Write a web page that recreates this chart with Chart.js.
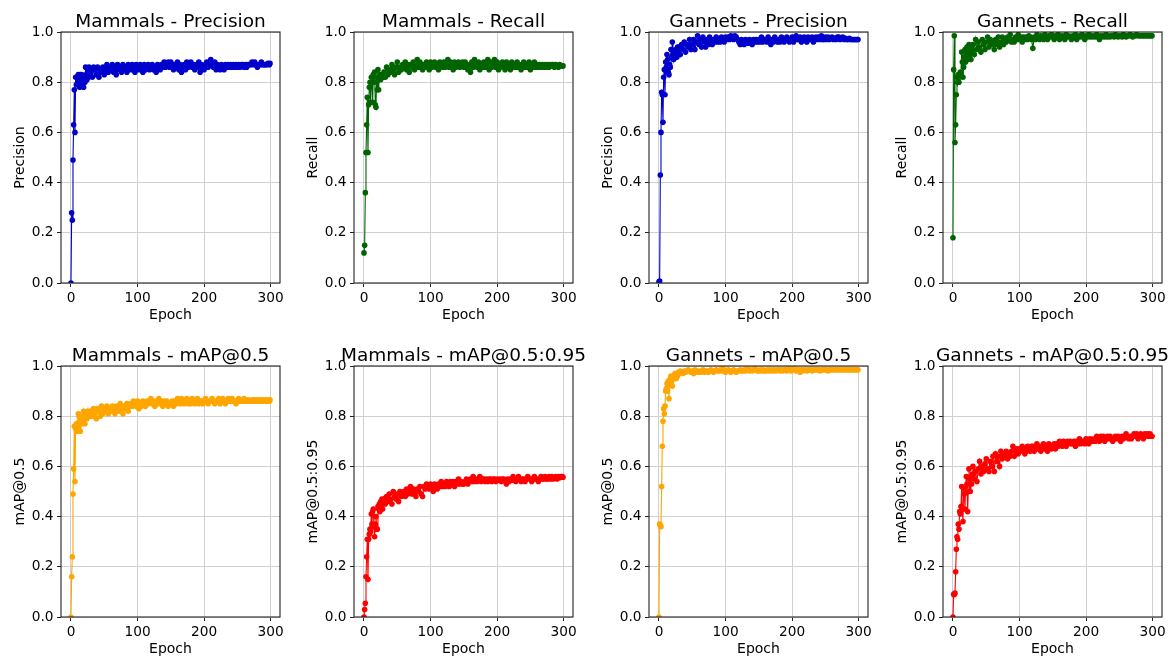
<!DOCTYPE html>
<html><head><meta charset="utf-8">
<script src="https://cdn.jsdelivr.net/npm/chart.js@4.4.1/dist/chart.umd.min.js"></script>
<style>
html,body{margin:0;padding:0;background:#fff;}
#fig{position:relative;width:1174px;height:659px;overflow:hidden;background:#fff;}
#fig canvas{position:absolute;}
</style></head><body><div id="fig"></div>
<script>
const epochs = [
 0,1,2,3,4,5,6,7,8,9,10,11,12,13,14,15,16,17,18,19,20,21,22,23,24,25,26,27,28,29,
 30,32,34,36,38,40,42,44,46,48,50,52,54,56,58,
 60,62,64,66,68,70,72,74,76,78,80,82,84,86,88,
 90,92,94,96,98,100,102,104,106,108,110,112,114,116,118,
 120,122,124,126,128,130,132,134,136,138,140,142,144,146,148,
 150,152,154,156,158,160,162,164,166,168,170,172,174,176,178,
 180,182,184,186,188,190,192,194,196,198,200,202,204,206,208,
 210,212,214,216,218,220,222,224,226,228,230,232,234,236,238,
 240,242,244,246,248,250,252,254,256,258,260,262,264,266,268,
 270,272,274,276,278,280,282,284,286,288,290,292,294,296,298,
 299
];
const mammalsPrecision = [
 0.00,0.28,0.25,0.49,0.63,0.77,0.60,0.82,0.79,0.82,0.80,0.83,0.82,0.78,0.83,0.81,0.83,0.79,0.80,0.78,0.82,0.80,0.86,0.83,0.81,0.84,0.82,0.86,0.83,0.85,
 0.84,0.82,0.86,0.85,0.83,0.86,0.82,0.85,0.84,0.86,0.83,0.85,0.87,0.84,0.86,
 0.85,0.87,0.84,0.86,0.83,0.87,0.85,0.86,0.84,0.87,0.85,0.86,0.84,0.87,0.86,
 0.85,0.87,0.86,0.84,0.87,0.86,0.85,0.87,0.86,0.84,0.87,0.85,0.86,0.87,0.85,
 0.86,0.87,0.85,0.86,0.84,0.87,0.86,0.85,0.87,0.86,0.88,0.86,0.87,0.88,0.86,
 0.88,0.87,0.85,0.87,0.86,0.88,0.85,0.87,0.84,0.86,0.87,0.85,0.88,0.86,0.87,
 0.88,0.86,0.87,0.85,0.87,0.86,0.88,0.84,0.87,0.86,0.85,0.87,0.88,0.86,0.87,
 0.89,0.87,0.86,0.88,0.85,0.87,0.86,0.85,0.87,0.86,0.85,0.87,0.86,0.87,0.86,
 0.87,0.86,0.87,0.86,0.87,0.86,0.87,0.86,0.87,0.87,0.86,0.87,0.86,0.87,0.87,
 0.87,0.88,0.87,0.88,0.87,0.86,0.87,0.87,0.88,0.87,0.87,0.87,0.87,0.875,0.87,
 0.875
];
const mammalsRecall = [
 0.12,0.15,0.36,0.52,0.63,0.74,0.52,0.71,0.78,0.80,0.72,0.82,0.80,0.72,0.83,0.80,0.84,0.71,0.70,0.82,0.77,0.85,0.77,0.82,0.83,0.81,0.82,0.82,0.83,0.82,
 0.84,0.82,0.86,0.83,0.85,0.84,0.87,0.85,0.83,0.86,0.88,0.84,0.86,0.85,0.87,
 0.86,0.88,0.85,0.87,0.84,0.87,0.86,0.88,0.85,0.87,0.89,0.86,0.88,0.87,0.85,
 0.87,0.86,0.88,0.87,0.85,0.88,0.86,0.87,0.88,0.86,0.87,0.85,0.88,0.87,0.86,
 0.88,0.86,0.87,0.89,0.86,0.88,0.87,0.85,0.88,0.86,0.87,0.88,0.86,0.87,0.88,
 0.86,0.88,0.87,0.85,0.87,0.84,0.88,0.86,0.89,0.87,0.86,0.88,0.85,0.87,0.86,
 0.88,0.86,0.87,0.89,0.85,0.88,0.86,0.87,0.89,0.86,0.88,0.85,0.87,0.86,0.88,
 0.87,0.85,0.88,0.86,0.87,0.85,0.88,0.86,0.87,0.86,0.88,0.86,0.87,0.85,0.87,
 0.88,0.86,0.87,0.86,0.88,0.85,0.87,0.86,0.88,0.86,0.87,0.86,0.87,0.86,0.87,
 0.86,0.87,0.86,0.87,0.86,0.87,0.865,0.87,0.86,0.87,0.865,0.86,0.87,0.865,0.865,
 0.865
];
const gannetsPrecision = [
 0.005,0.008,0.43,0.60,0.76,0.75,0.64,0.82,0.85,0.75,0.88,0.86,0.91,0.89,0.84,0.83,0.87,0.86,0.93,0.90,0.96,0.91,0.89,0.92,0.90,0.93,0.92,0.90,0.94,0.92,
 0.94,0.91,0.95,0.93,0.96,0.92,0.95,0.94,0.97,0.93,0.95,0.97,0.93,0.96,0.985,
 0.95,0.97,0.94,0.98,0.96,0.94,0.97,0.95,0.98,0.96,0.95,0.97,0.96,0.98,0.96,
 0.97,0.96,0.98,0.97,0.96,0.98,0.97,0.98,0.97,0.985,0.98,0.97,0.985,0.98,0.97,
 0.96,0.95,0.97,0.96,0.95,0.97,0.96,0.955,0.97,0.96,0.95,0.97,0.96,0.97,0.96,
 0.97,0.96,0.98,0.96,0.97,0.97,0.96,0.98,0.97,0.95,0.97,0.96,0.98,0.97,0.96,
 0.97,0.96,0.98,0.97,0.96,0.97,0.98,0.97,0.96,0.97,0.98,0.96,0.97,0.985,0.97,
 0.97,0.98,0.96,0.97,0.98,0.97,0.96,0.98,0.97,0.97,0.98,0.96,0.97,0.98,0.97,
 0.98,0.97,0.985,0.97,0.97,0.98,0.97,0.98,0.97,0.975,0.98,0.97,0.975,0.97,0.98,
 0.98,0.97,0.975,0.98,0.97,0.975,0.97,0.97,0.975,0.97,0.97,0.97,0.97,0.97,0.97,
 0.97
];
const gannetsRecall = [
 0.18,0.85,0.985,0.56,0.63,0.75,0.82,0.80,0.83,0.80,0.82,0.84,0.83,0.92,0.88,0.82,0.86,0.90,0.93,0.88,0.91,0.94,0.89,0.92,0.95,0.90,0.93,0.89,0.94,0.92,
 0.95,0.91,0.97,0.93,0.96,0.94,0.92,0.97,0.95,0.93,0.96,0.98,0.94,0.97,0.95,
 0.96,0.93,0.97,0.95,0.98,0.94,0.96,0.98,0.95,0.97,0.96,0.98,0.97,0.99,0.96,
 0.97,0.96,0.98,0.97,0.99,0.97,0.98,0.96,0.98,0.97,0.98,0.97,0.985,0.98,0.97,
 0.935,0.98,0.97,0.99,0.98,0.97,0.985,0.98,0.97,0.99,0.98,0.97,0.985,0.98,0.99,
 0.98,0.97,0.985,0.98,0.99,0.97,0.98,0.985,0.98,0.97,0.99,0.98,0.985,0.98,0.97,
 0.985,0.98,0.99,0.97,0.98,0.985,0.98,0.99,0.98,0.97,0.985,0.98,0.99,0.98,0.985,
 0.98,0.985,0.98,0.99,0.98,0.97,0.985,0.98,0.985,0.98,0.99,0.98,0.985,0.98,0.985,
 0.985,0.98,0.99,0.985,0.98,0.985,0.985,0.98,0.99,0.985,0.98,0.985,0.985,0.99,0.985,
 0.98,0.985,0.985,0.99,0.985,0.985,0.985,0.985,0.985,0.985,0.985,0.985,0.985,0.985,0.985,
 0.985
];
const mammalsMap50 = [
 0.00,0.16,0.24,0.49,0.59,0.76,0.54,0.75,0.77,0.74,0.76,0.81,0.80,0.78,0.74,0.80,0.77,0.79,0.80,0.82,0.79,0.77,0.80,0.81,0.79,0.82,0.80,0.81,0.82,0.80,
 0.82,0.80,0.83,0.81,0.79,0.83,0.82,0.80,0.84,0.81,0.83,0.82,0.84,0.81,0.83,
 0.82,0.84,0.83,0.81,0.84,0.83,0.82,0.85,0.83,0.81,0.84,0.83,0.85,0.82,0.84,
 0.85,0.84,0.86,0.85,0.84,0.86,0.83,0.85,0.84,0.86,0.85,0.84,0.86,0.85,0.86,
 0.87,0.85,0.86,0.84,0.86,0.85,0.87,0.85,0.86,0.84,0.86,0.85,0.86,0.84,0.85,
 0.85,0.86,0.84,0.86,0.85,0.87,0.86,0.85,0.87,0.86,0.85,0.86,0.87,0.85,0.86,
 0.85,0.87,0.86,0.85,0.86,0.87,0.85,0.86,0.86,0.85,0.86,0.87,0.86,0.85,0.86,
 0.86,0.87,0.86,0.85,0.86,0.86,0.87,0.85,0.86,0.87,0.86,0.85,0.86,0.87,0.86,
 0.86,0.87,0.86,0.86,0.85,0.86,0.87,0.86,0.86,0.86,0.87,0.86,0.86,0.865,0.86,
 0.86,0.865,0.86,0.865,0.86,0.865,0.86,0.865,0.86,0.865,0.86,0.865,0.86,0.865,0.86,
 0.865
];
const mammalsMap5095 = [
 0.00,0.03,0.055,0.16,0.24,0.31,0.15,0.31,0.33,0.35,0.34,0.41,0.37,0.42,0.43,0.36,0.32,0.37,0.40,0.35,0.35,0.44,0.43,0.45,0.42,0.46,0.44,0.47,0.43,0.46,
 0.47,0.45,0.48,0.46,0.49,0.47,0.45,0.50,0.48,0.47,0.49,0.46,0.50,0.48,0.49,
 0.50,0.48,0.51,0.49,0.50,0.52,0.49,0.51,0.50,0.48,0.51,0.50,0.52,0.49,0.48,
 0.52,0.51,0.53,0.52,0.51,0.53,0.52,0.50,0.53,0.52,0.51,0.53,0.52,0.54,0.52,
 0.53,0.52,0.54,0.53,0.52,0.54,0.53,0.54,0.52,0.54,0.53,0.55,0.53,0.54,0.53,
 0.53,0.54,0.55,0.53,0.54,0.55,0.54,0.56,0.54,0.55,0.54,0.55,0.56,0.54,0.55,
 0.55,0.54,0.55,0.54,0.55,0.55,0.54,0.55,0.55,0.54,0.55,0.545,0.55,0.54,0.55,
 0.55,0.54,0.53,0.55,0.54,0.55,0.545,0.56,0.55,0.54,0.55,0.56,0.55,0.54,0.55,
 0.55,0.54,0.55,0.56,0.55,0.55,0.54,0.55,0.56,0.55,0.55,0.54,0.55,0.56,0.55,
 0.55,0.56,0.55,0.55,0.56,0.55,0.56,0.55,0.555,0.56,0.55,0.56,0.555,0.56,0.56,
 0.557
];
const gannetsMap50 = [
 0.00,0.37,0.365,0.36,0.52,0.68,0.78,0.83,0.81,0.84,0.90,0.91,0.93,0.90,0.94,0.87,0.93,0.95,0.96,0.94,0.92,0.95,0.96,0.95,0.97,0.96,0.95,0.97,0.96,0.975,
 0.97,0.98,0.975,0.97,0.98,0.975,0.98,0.985,0.98,0.975,0.98,0.97,0.985,0.98,0.975,
 0.98,0.975,0.98,0.985,0.975,0.98,0.98,0.975,0.98,0.985,0.98,0.975,0.98,0.985,0.98,
 0.98,0.985,0.98,0.99,0.98,0.975,0.98,0.985,0.98,0.975,0.98,0.985,0.98,0.975,0.98,
 0.98,0.985,0.98,0.98,0.985,0.98,0.99,0.985,0.98,0.985,0.98,0.985,0.99,0.985,0.98,
 0.98,0.985,0.98,0.985,0.98,0.98,0.985,0.98,0.985,0.98,0.985,0.98,0.985,0.98,0.985,
 0.985,0.98,0.985,0.98,0.985,0.985,0.98,0.99,0.985,0.98,0.985,0.99,0.985,0.98,0.985,
 0.985,0.975,0.985,0.98,0.985,0.985,0.98,0.985,0.985,0.985,0.98,0.985,0.985,0.985,0.985,
 0.985,0.98,0.985,0.985,0.985,0.985,0.985,0.98,0.985,0.985,0.985,0.985,0.985,0.985,0.985,
 0.985,0.985,0.985,0.985,0.985,0.985,0.985,0.985,0.985,0.985,0.985,0.985,0.985,0.985,0.985,
 0.985
];
const gannetsMap5095 = [
 0.00,0.09,0.09,0.095,0.18,0.27,0.32,0.31,0.37,0.35,0.42,0.41,0.44,0.52,0.43,0.38,0.51,0.49,0.43,0.52,0.56,0.53,0.42,0.50,0.59,0.55,0.50,0.56,0.53,0.57,
 0.60,0.55,0.58,0.54,0.59,0.62,0.57,0.60,0.58,0.61,0.63,0.59,0.58,0.62,0.60,
 0.64,0.58,0.65,0.62,0.64,0.60,0.66,0.63,0.65,0.64,0.66,0.63,0.65,0.64,0.66,
 0.68,0.64,0.66,0.67,0.65,0.67,0.66,0.68,0.67,0.65,0.66,0.68,0.67,0.66,0.68,
 0.68,0.66,0.67,0.69,0.67,0.68,0.66,0.68,0.69,0.67,0.68,0.66,0.69,0.68,0.67,
 0.68,0.69,0.67,0.69,0.68,0.70,0.69,0.68,0.70,0.69,0.68,0.70,0.69,0.70,0.69,
 0.69,0.70,0.68,0.70,0.69,0.71,0.69,0.70,0.70,0.69,0.71,0.70,0.69,0.71,0.70,
 0.70,0.71,0.70,0.72,0.71,0.70,0.72,0.71,0.72,0.70,0.71,0.72,0.71,0.72,0.71,
 0.70,0.71,0.72,0.71,0.72,0.71,0.70,0.72,0.71,0.72,0.73,0.72,0.71,0.72,0.71,
 0.72,0.73,0.72,0.73,0.71,0.72,0.73,0.72,0.71,0.73,0.72,0.73,0.72,0.73,0.72,
 0.72
];
const yTicks = [0, 0.2, 0.4, 0.6, 0.8, 1.0];
const xTicks = [0, 100, 200, 300];
const panels = [
 {title:'Mammals - Precision', ylabel:'Precision', values:mammalsPrecision, color:'#0000CD', col:0, row:0},
 {title:'Mammals - Recall', ylabel:'Recall', values:mammalsRecall, color:'#006400', col:1, row:0},
 {title:'Gannets - Precision', ylabel:'Precision', values:gannetsPrecision, color:'#0000CD', col:2, row:0},
 {title:'Gannets - Recall', ylabel:'Recall', values:gannetsRecall, color:'#006400', col:3, row:0},
 {title:'Mammals - mAP@0.5', ylabel:'mAP@0.5', values:mammalsMap50, color:'#FFA500', col:0, row:1},
 {title:'Mammals - mAP@0.5:0.95', ylabel:'mAP@0.5:0.95', values:mammalsMap5095, color:'#FF0000', col:1, row:1},
 {title:'Gannets - mAP@0.5', ylabel:'mAP@0.5', values:gannetsMap50, color:'#FFA500', col:2, row:1},
 {title:'Gannets - mAP@0.5:0.95', ylabel:'mAP@0.5:0.95', values:gannetsMap5095, color:'#FF0000', col:3, row:1}
];

const FONT = 'DejaVu Sans';
const colLeft = [61, 354, 649, 943];
const rowTop = [32, 366];
const AX_W = 219, AX_H = 251, YW = 60, XH = 46, PT = 32, PR = 30;

const panelFrame = {
  id: 'panelFrame',
  afterDatasetsDraw(chart, args, opts) {
    const ctx = chart.ctx, a = chart.chartArea;
    ctx.save();
    ctx.strokeStyle = '#222';
    ctx.lineWidth = 1.1;
    ctx.strokeRect(a.left, a.top, a.right - a.left, a.bottom - a.top);
    ctx.fillStyle = '#000';
    ctx.font = '18.5px "' + FONT + '"';
    ctx.textAlign = 'center';
    ctx.textBaseline = 'alphabetic';
    ctx.fillText(opts.text, (a.left + a.right) / 2, a.top - 5.5);
    ctx.restore();
  }
};

const fig = document.getElementById('fig');
panels.forEach(p => {
  const c = document.createElement('canvas');
  const w = YW + AX_W + PR, h = PT + AX_H + XH;
  c.width = w; c.height = h;
  c.style.width = w + 'px'; c.style.height = h + 'px';
  c.style.left = (colLeft[p.col] - YW) + 'px';
  c.style.top = (rowTop[p.row] - PT) + 'px';
  fig.appendChild(c);
  new Chart(c, {
    type: 'line',
    data: {
      datasets: [{
        data: epochs.map((e, i) => ({x: e, y: p.values[i]})),
        borderColor: p.color,
        backgroundColor: p.color,
        borderWidth: 1.1,
        pointRadius: 2.8,
        pointBorderWidth: 0,
        pointBackgroundColor: p.color,
        tension: 0,
        clip: 0
      }]
    },
    plugins: [panelFrame],
    options: {
      responsive: false,
      animation: false,
      devicePixelRatio: 1,
      layout: {padding: {top: PT, right: PR, left: 0, bottom: 0}},
      plugins: {
        legend: {display: false},
        tooltip: {enabled: false},
        title: {display: false},
        panelFrame: {text: p.title}
      },
      scales: {
        x: {
          type: 'linear', min: -15, max: 314,
          afterBuildTicks: s => { s.ticks = xTicks.map(v => ({value: v})); },
          afterFit: s => { s.height = XH; },
          grid: {color: '#d0d0d0', lineWidth: 1, tickColor: '#222', tickLength: 4, drawTicks: true},
          border: {display: false},
          ticks: {font: {family: FONT, size: 13.7}, color: '#000', padding: 3, maxRotation: 0, autoSkip: false, callback: v => String(v)},
          title: {display: true, text: 'Epoch', font: {family: FONT, size: 14}, color: '#000', padding: {top: 0, bottom: 5}}
        },
        y: {
          type: 'linear', min: 0, max: 1,
          afterBuildTicks: s => { s.ticks = yTicks.map(v => ({value: v})); },
          afterFit: s => { s.width = YW; },
          grid: {color: '#d0d0d0', lineWidth: 1, tickColor: '#222', tickLength: 4, drawTicks: true},
          border: {display: false},
          ticks: {font: {family: FONT, size: 13.7}, color: '#000', padding: 3.5, autoSkip: false, callback: v => Number(v).toFixed(1)},
          title: {display: true, text: p.ylabel, font: {family: FONT, size: 14}, color: '#000', padding: {top: 11, bottom: 0}}
        }
      }
    }
  });
});
</script>
</body></html>
